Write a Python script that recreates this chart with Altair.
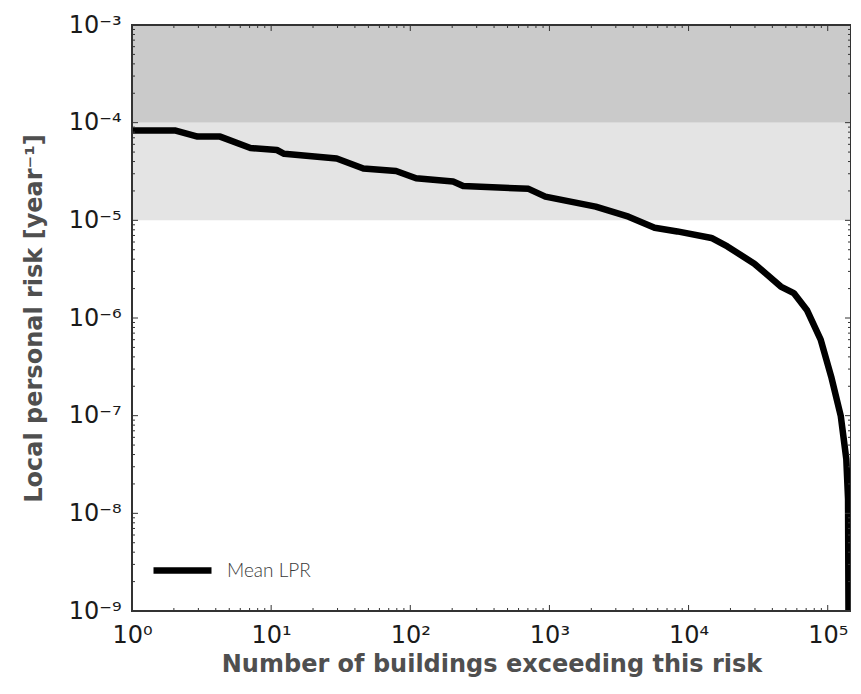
import json
import altair as alt
import pandas as pd

# ---- data ----
buildings = [1, 2.06, 2.96, 4.3, 7.1, 11, 12.4, 29.6, 46, 79, 110, 203, 240, 708, 935,
             2150, 3700, 5700, 8300, 14600, 19000, 29700, 46000, 57000, 70800, 89000,
             106000, 124000, 136000, 140000, 141000, 141000]
risk = [8.3e-5, 8.3e-5, 7.2e-5, 7.2e-5, 5.5e-5, 5.25e-5, 4.8e-5, 4.3e-5, 3.4e-5, 3.2e-5,
        2.7e-5, 2.5e-5, 2.25e-5, 2.1e-5, 1.75e-5, 1.38e-5, 1.09e-5, 8.4e-6, 7.7e-6, 6.6e-6,
        5.4e-6, 3.6e-6, 2.1e-6, 1.8e-6, 1.21e-6, 6.0e-7, 2.5e-7, 1e-7, 3.6e-8, 1.4e-8,
        1e-9, 1e-10]
series_name = "Mean LPR"

x_ticks = [1, 10, 100, 1000, 10000, 100000]
x_tick_labels = ["10⁰", "10¹", "10²", "10³", "10⁴", "10⁵"]
y_ticks = [1e-9, 1e-8, 1e-7, 1e-6, 1e-5, 1e-4, 1e-3]
y_tick_labels = ["10⁻⁹", "10⁻⁸", "10⁻⁷", "10⁻⁶", "10⁻⁵", "10⁻⁴", "10⁻³"]

band_lo = [1e-4, 1e-5]
band_hi = [1e-3, 1e-4]
band_colors = ["#cacaca", "#e4e4e4"]

x_min, x_max = 1, 1.47e5
y_min, y_max = 1e-9, 1e-3

x_title = "Number of buildings exceeding this risk"
y_title = "Local personal risk [year⁻¹]"

# ---- frames ----
W, H = 719, 586
line_df = pd.DataFrame({"buildings": buildings, "risk": risk, "series": series_name})
band_df = pd.DataFrame({"lo": band_lo, "hi": band_hi, "c": band_colors,
                        "x1": x_min, "x2": x_max})
frame_df = pd.DataFrame({"x1": [x_min], "x2": [x_max], "y1": [y_min], "y2": [y_max]})

x_minor = [m * 10 ** e for e in range(0, 6) for m in range(2, 10) if m * 10 ** e <= x_max]
y_minor = [m * 10.0 ** e for e in range(-9, -3) for m in range(2, 10)]
xt_df = pd.DataFrame({"v": x_ticks + x_minor,
                      "len": [6] * len(x_ticks) + [3] * len(x_minor)})
yt_df = pd.DataFrame({"v": y_ticks + y_minor,
                      "len": [6] * len(y_ticks) + [3] * len(y_minor)})

xs = alt.Scale(type="log", domain=[x_min, x_max], nice=False)
ys = alt.Scale(type="log", domain=[y_min, y_max], nice=False)

x_label_expr = json.dumps(x_tick_labels, ensure_ascii=False).replace('"', "'") + \
    "[round(log(datum.value)/LN10)]"
y_label_expr = json.dumps(y_tick_labels, ensure_ascii=False).replace('"', "'") + \
    "[round(log(datum.value)/LN10)+9]"

axis_style = dict(ticks=False, domain=False, grid=False, labelFlush=False,
                  labelFont="DejaVu Sans", labelFontSize=24, labelColor="#1a1a1a",
                  titleFont="DejaVu Sans", titleFontSize=24, titleFontWeight="bold",
                  titleColor="#4f4f4f")
x_axis = alt.Axis(values=x_ticks, labelExpr=x_label_expr, title=x_title,
                  labelPadding=12, titlePadding=5, **axis_style)
y_axis = alt.Axis(values=y_ticks, labelExpr=y_label_expr, title=y_title,
                  labelPadding=11, titlePadding=22, **axis_style)

bands = alt.Chart(band_df).mark_rect().encode(
    x=alt.X("x1:Q", scale=xs, axis=x_axis),
    x2="x2:Q",
    y=alt.Y("lo:Q", scale=ys, axis=y_axis),
    y2="hi:Q",
    fill=alt.Fill("c:N", scale=None),
)

line = alt.Chart(line_df).mark_line(strokeWidth=6.5, clip=True, strokeJoin="round").encode(
    x=alt.X("buildings:Q", scale=xs, axis=x_axis),
    y=alt.Y("risk:Q", scale=ys, axis=y_axis),
    color=alt.Color("series:N",
                    scale=alt.Scale(domain=[series_name], range=["black"]),
                    legend=alt.Legend(title=None, orient="none", legendX=18, legendY=513,
                                      symbolType="stroke", symbolStrokeWidth=6.5,
                                      symbolSize=3364, labelFont="Lato",
                                      labelFontSize=19, labelFontWeight=300,
                                      labelColor="#3a3a3a", labelOffset=12, padding=0)),
)


def hticks(length):
    sub = xt_df[xt_df["len"] == length]
    b = alt.Chart(sub).mark_rule(color="#333", strokeWidth=1).encode(
        x=alt.X("v:Q", scale=xs, axis=x_axis), y=alt.value(H), y2=alt.value(H - length))
    t = alt.Chart(sub).mark_rule(color="#333", strokeWidth=1).encode(
        x=alt.X("v:Q", scale=xs, axis=x_axis), y=alt.value(0), y2=alt.value(length))
    return [b, t]


def vticks(length):
    sub = yt_df[yt_df["len"] == length]
    l = alt.Chart(sub).mark_rule(color="#333", strokeWidth=1).encode(
        y=alt.Y("v:Q", scale=ys, axis=y_axis), x=alt.value(0), x2=alt.value(length))
    r = alt.Chart(sub).mark_rule(color="#333", strokeWidth=1).encode(
        y=alt.Y("v:Q", scale=ys, axis=y_axis), x=alt.value(W), x2=alt.value(W - length))
    return [l, r]


frame = alt.Chart(frame_df).mark_rect(filled=False, stroke="#333", strokeWidth=2).encode(
    x=alt.X("x1:Q", scale=xs, axis=x_axis), x2="x2:Q",
    y=alt.Y("y1:Q", scale=ys, axis=y_axis), y2="y2:Q",
)

layers = [bands, line] + hticks(6) + hticks(3) + vticks(6) + vticks(3) + [frame]

chart = alt.layer(*layers).properties(
    width=W, height=H, background="white",
    autosize=alt.AutoSizeParams(type="none"),
    padding={"left": 124, "top": 17, "right": 0, "bottom": 66},
).configure_view(stroke=None)

chart.save("out.html", embed_options={"renderer": "svg", "actions": False})
